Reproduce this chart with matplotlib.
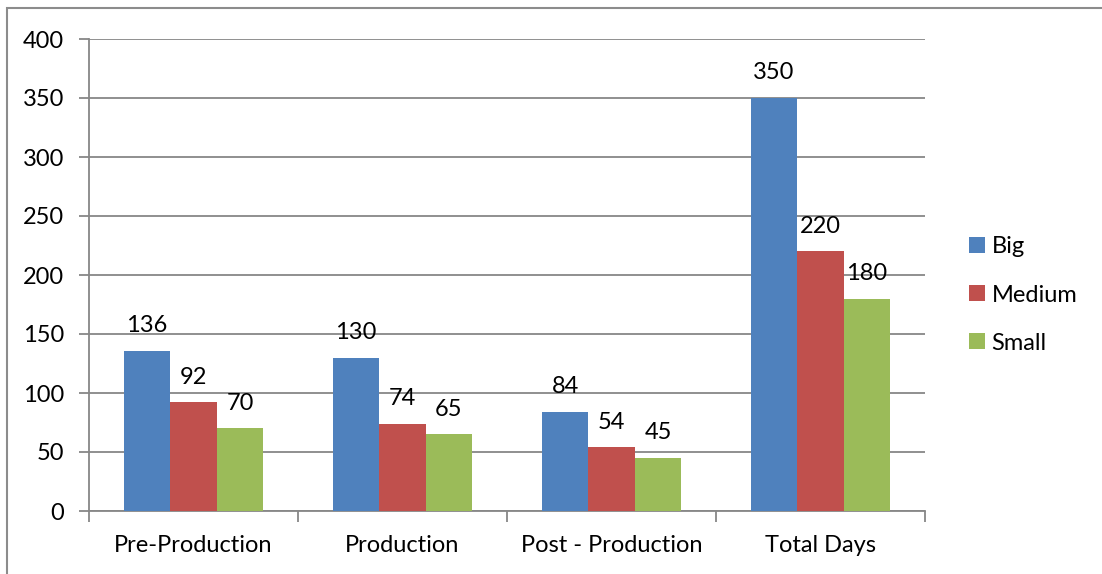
import matplotlib.pyplot as plt
import numpy as np
from matplotlib.patches import Rectangle

# Days spent per production phase, by film size
phases = ["Pre-Production", "Production", "Post - Production", "Total Days"]
big = [136, 130, 84, 350]
medium = [92, 74, 54, 220]
small = [70, 65, 45, 180]
series_names = ["Big", "Medium", "Small"]
y_ticks = [0, 50, 100, 150, 200, 250, 300, 350, 400]

colors = ["#4f81bd", "#c0504d", "#9bbb59"]
grid_color = "#878787"
font_size = 17

plt.rcParams["font.family"] = ["Lato", "DejaVu Sans"]

fig = plt.figure(figsize=(11.02, 5.74), dpi=100)
ax = fig.add_axes([89 / 1102, 1 - 511 / 574, (925 - 89) / 1102, (511 - 39) / 574])

# outer chart border (only top and left edges fall inside the image)
fig.patches.append(Rectangle((7 / 1102, -0.1), 1.2, 1 - 8 / 574 + 0.1,
                             transform=fig.transFigure, fill=False,
                             edgecolor="#8c8c8c", linewidth=1.5, zorder=0))

x = np.arange(len(phases))
width = 0.667 / 3
for i, (values, name, color) in enumerate(zip([big, medium, small], series_names, colors)):
    positions = x + (i - 1) * width
    bars = ax.bar(positions, values, width, color=color, label=name, zorder=3)
    for bar, value in zip(bars, values):
        ax.annotate(str(value), (bar.get_x() + bar.get_width() / 2, value),
                    xytext=(0, 10.5), textcoords="offset points",
                    ha="center", va="bottom", fontsize=font_size, color="black")

ax.set_xlim(-0.5, len(phases) - 0.5)
ax.set_ylim(0, 400)
ax.set_yticks(y_ticks)
ax.set_yticklabels([str(t) for t in y_ticks], fontsize=font_size)
ax.yaxis.grid(True, color=grid_color, linewidth=1.3, zorder=0)
ax.set_axisbelow(True)

# category labels centred, tick marks at group boundaries
ax.set_xticks(x)
ax.set_xticklabels(phases, fontsize=font_size)
ax.tick_params(axis="x", which="major", length=0, pad=17)
ax.set_xticks(np.arange(len(phases) + 1) - 0.5, minor=True)
ax.tick_params(axis="x", which="minor", length=8, width=1.3, color=grid_color)
ax.tick_params(axis="y", length=7, width=1.3, color=grid_color, pad=11)

for side in ["top", "right"]:
    ax.spines[side].set_visible(False)
for side in ["left", "bottom"]:
    ax.spines[side].set_color(grid_color)
    ax.spines[side].set_linewidth(1.3)

ax.legend(loc="center left", bbox_to_anchor=(948 / 1102, 1 - 295 / 574),
          bbox_transform=fig.transFigure, frameon=False, fontsize=font_size,
          handlelength=0.65, handleheight=0.65, handletextpad=0.3, labelspacing=1.15)

fig.savefig("out.png", dpi=100)
